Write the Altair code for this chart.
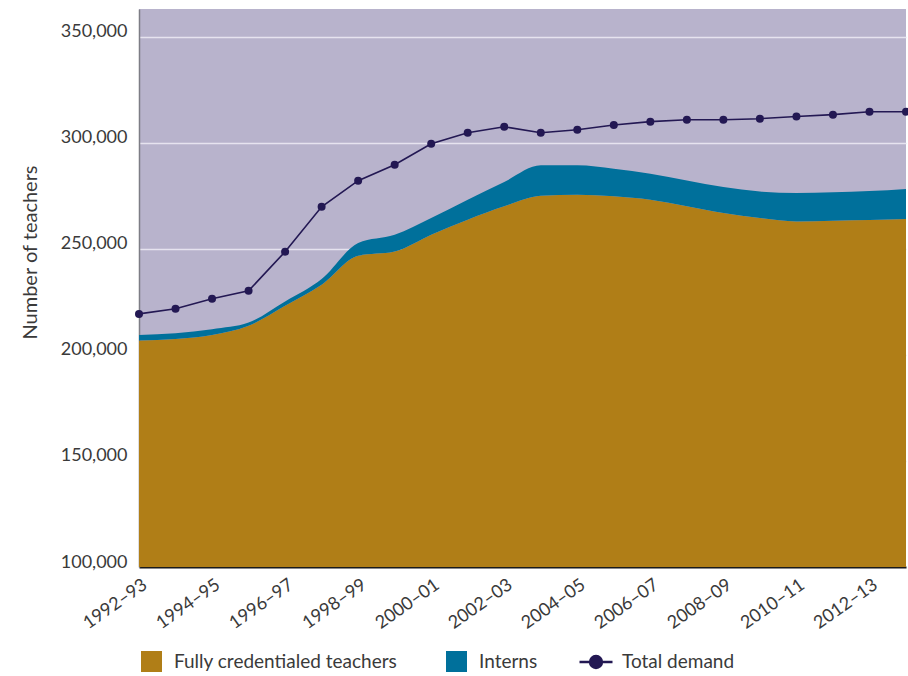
import altair as alt
import pandas as pd

# School years on the x axis
years = [
    "1992–93", "1993–94", "1994–95", "1995–96", "1996–97", "1997–98",
    "1998–99", "1999–00", "2000–01", "2001–02", "2002–03", "2003–04",
    "2004–05", "2005–06", "2006–07", "2007–08", "2008–09", "2009–10",
    "2010–11", "2011–12", "2012–13", "2013–14",
]
tick_labels = [
    "1992–93", "1994–95", "1996–97", "1998–99", "2000–01", "2002–03",
    "2004–05", "2006–07", "2008–09", "2010–11", "2012–13",
]

# Teacher counts
credentialed = [
    206700, 207500, 209400, 213700, 223100, 233000, 246700, 248700,
    256600, 263700, 270000, 275000, 275500, 274700, 273100, 270000,
    266800, 264500, 262900, 263200, 263500, 264000,
]
interns = [
    2700, 2700, 2700, 1500, 2000, 2700, 6000, 7900,
    7900, 9400, 11500, 14300, 13800, 13000, 12300, 12200,
    12300, 12500, 13400, 13400, 13700, 14200,
]
total_demand = [
    219300, 221700, 226400, 230200, 248600, 269800, 282100, 289600,
    299500, 304700, 307500, 304700, 306100, 308300, 309900, 310800,
    310800, 311300, 312300, 313200, 314600, 314600,
]

series_names = ["Fully credentialed teachers", "Interns"]
series_colors = ["#b07e17", "#00709b"]
demand_name = "Total demand"
demand_color = "#231853"

FONT = "Lato"
TEXT = "#3a3a3a"

stack_df = pd.DataFrame(
    {
        "year": years * 2,
        "teachers": credentialed + interns,
        "series": [series_names[0]] * len(years) + [series_names[1]] * len(years),
        "rank": [0] * len(years) + [1] * len(years),
    }
)
demand_df = pd.DataFrame(
    {"year": years, "teachers": total_demand, "series": [demand_name] * len(years)}
)

x_enc = alt.X(
    "year:N",
    sort=years,
    scale=alt.Scale(type="point", padding=0),
    axis=alt.Axis(
        title=None,
        values=tick_labels,
        labelAngle=-35,
        labelAlign="right",
        labelBaseline="middle",
        labelPadding=16,
        labelOffset=6,
        labelFont=FONT,
        labelFontSize=18,
        labelColor=TEXT,
        ticks=False,
        grid=False,
        domain=True,
        domainColor="#1a1a1a",
        domainWidth=2,
    ),
)

y_scale = alt.Scale(domain=[100000, 363000], zero=False, nice=False)
y_axis = alt.Axis(
    title="Number of teachers",
    values=[100000, 150000, 200000, 250000, 300000, 350000],
    format=",.0f",
    labelFont=FONT,
    labelFontSize=18,
    labelColor=TEXT,
    labelPadding=12,
    labelOffset=-5,
    ticks=False,
    grid=True,
    gridColor="#e6e3ef",
    gridWidth=1.5,
    domain=True,
    domainColor="#7d7d85",
    domainWidth=1.5,
    titleFont=FONT,
    titleFontSize=20,
    titleFontWeight="normal",
    titleColor=TEXT,
    titleAngle=270,
    titleAlign="center",
    titleBaseline="middle",
    titleX=-109,
    titleY=243,
)

areas = (
    alt.Chart(stack_df)
    .mark_area(interpolate="monotone", clip=True)
    .encode(
        x=x_enc,
        y=alt.Y("teachers:Q", stack="zero", scale=y_scale, axis=y_axis),
        color=alt.Color(
            "series:N",
            scale=alt.Scale(domain=series_names, range=series_colors),
            legend=alt.Legend(
                title=None,
                orient="none",
                legendX=2,
                legendY=642,
                direction="horizontal",
                symbolType="square",
                symbolSize=441,
                symbolStrokeWidth=0,
                symbolOpacity=1,
                labelFont=FONT,
                labelFontSize=19,
                labelColor=TEXT,
                labelOffset=12,
                labelLimit=400,
                columnPadding=48,
                padding=0,
            ),
        ),
        order=alt.Order("rank:Q"),
    )
)

demand_legend = alt.Legend(
    title=None,
    orient="none",
    legendX=439,
    legendY=635,
    symbolType="M-1,0H1M-0.36,0A0.36,0.36 0 1,0 0.36,0A0.36,0.36 0 1,0 -0.36,0Z",
    symbolSize=1089,
    symbolStrokeWidth=2.5,
    symbolFillColor=demand_color,
    labelFont=FONT,
    labelFontSize=19,
    labelColor=TEXT,
    labelOffset=8,
    padding=0,
)

demand_color_enc = alt.Color(
    "series:N",
    scale=alt.Scale(domain=[demand_name], range=[demand_color]),
    legend=demand_legend,
)

demand_line = (
    alt.Chart(demand_df)
    .mark_line(strokeWidth=1.6)
    .encode(x=x_enc, y=alt.Y("teachers:Q", scale=y_scale), color=demand_color_enc)
)
demand_points = (
    alt.Chart(demand_df)
    .mark_point(filled=True, size=64, opacity=1)
    .encode(x=x_enc, y=alt.Y("teachers:Q", scale=y_scale), color=alt.value(demand_color))
)

chart = (
    alt.layer(areas, demand_line, demand_points)
    .resolve_scale(color="independent")
    .properties(
        width=767,
        height=558,
        autosize=alt.AutoSizeParams(type="none"),
        padding={"left": 139, "top": 9, "right": 2, "bottom": 109},
        background="white",
    )
    .configure_view(fill="#b8b3cc", strokeWidth=0)
)

chart.save("out.html", embed_options={"renderer": "svg", "actions": False})
